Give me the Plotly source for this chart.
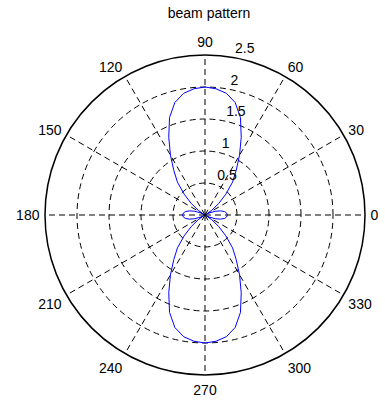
import plotly.graph_objects as go

# Beam pattern (degrees, magnitude)
theta_deg = [0, 5, 10, 15, 20, 25, 30, 35, 40, 45, 50, 55, 60, 65, 70, 75, 80, 85,
             90, 95, 100, 105, 110, 115, 120, 125, 130, 135, 140, 145, 150, 155, 160, 165, 170, 175,
             180, 185, 190, 195, 200, 205, 210, 215, 220, 225, 230, 235, 240, 245, 250, 255, 260, 265,
             270, 275, 280, 285, 290, 295, 300, 305, 310, 315, 320, 325, 330, 335, 340, 345, 350, 355, 360]
magnitude = [0.35, 0.34, 0.31, 0.25, 0.17, 0.08, 0.03, 0.13, 0.28, 0.46, 0.67, 0.85, 1.08, 1.34, 1.62, 1.82, 1.93, 1.98,
             2.00, 1.98, 1.93, 1.82, 1.62, 1.34, 1.08, 0.85, 0.67, 0.46, 0.28, 0.13, 0.03, 0.08, 0.17, 0.25, 0.31, 0.34,
             0.35, 0.34, 0.31, 0.25, 0.17, 0.08, 0.03, 0.13, 0.28, 0.46, 0.67, 0.85, 1.08, 1.34, 1.62, 1.82, 1.93, 1.98,
             2.00, 1.98, 1.93, 1.82, 1.62, 1.34, 1.08, 0.85, 0.67, 0.46, 0.28, 0.13, 0.03, 0.08, 0.17, 0.25, 0.31, 0.34, 0.35]

radial_ticks = [0.5, 1, 1.5, 2, 2.5]
radial_labels = ["0.5", "1", "1.5", "2", "2.5"]
radial_label_angle = 82
angle_ticks = [0, 30, 60, 90, 120, 150, 180, 210, 240, 270, 300, 330]
angle_labels = [str(a) for a in angle_ticks]
title_text = "beam pattern"

FONT = "Liberation Sans, Arial, sans-serif"
FS = 14

fig = go.Figure()
fig.add_trace(go.Scatterpolar(
    r=magnitude, theta=theta_deg, mode="lines",
    line=dict(color="rgb(0,0,255)", width=1),
    showlegend=False, hoverinfo="skip",
))
# radial tick labels, placed like MATLAB's polar(): at 82 deg, bottom-left anchored
fig.add_trace(go.Scatterpolar(
    r=radial_ticks, theta=[radial_label_angle] * len(radial_ticks), mode="text",
    text=["\u00a0\u00a0" + t for t in radial_labels], textposition="top right",
    textfont=dict(family=FONT, size=FS, color="black"),
    showlegend=False, hoverinfo="skip", cliponaxis=False,
))

W, H = 385, 401
cx, cy, R = 205, 215, 160
fig.update_layout(
    width=W, height=H,
    margin=dict(l=0, r=0, t=0, b=0),
    paper_bgcolor="white", plot_bgcolor="white",
    font=dict(family=FONT, size=FS, color="black"),
    title=dict(text=title_text, x=209 / W, xanchor="center", y=1 - 13 / H, yanchor="middle",
               font=dict(family=FONT, size=FS, color="black")),
    polar=dict(
        domain=dict(x=[(cx - R) / W, (cx + R) / W], y=[(H - cy - R) / H, (H - cy + R) / H]),
        bgcolor="white",
        angularaxis=dict(
            rotation=0, direction="counterclockwise",
            tickmode="array", tickvals=angle_ticks, ticktext=angle_labels,
            showline=True, linecolor="black", linewidth=1.5,
            showgrid=True, gridcolor="black", gridwidth=0.8, griddash="6px,4px",
            ticks="outside", ticklen=2, tickcolor="rgba(0,0,0,0)",
            tickfont=dict(family=FONT, size=FS, color="black"),
        ),
        radialaxis=dict(
            range=[0, 2.5], angle=radial_label_angle,
            tickmode="array", tickvals=radial_ticks,
            showticklabels=False, showline=False, ticks="",
            showgrid=True, gridcolor="black", gridwidth=0.8, griddash="6px,4px",
        ),
    ),
)

fig.write_html("out.html")
